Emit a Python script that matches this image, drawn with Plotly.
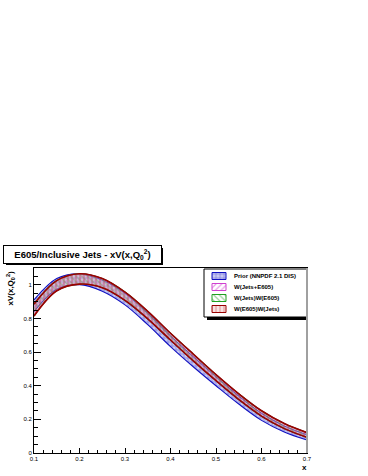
import plotly.graph_objects as go

# x grid and band edges
x = [0.10, 0.15, 0.20, 0.25, 0.30, 0.35, 0.40, 0.45, 0.50, 0.55, 0.60, 0.65, 0.70]

prior_hi = [0.910, 1.037, 1.065, 1.028, 0.949, 0.831, 0.697, 0.573, 0.454, 0.339, 0.236, 0.161, 0.109]
prior_lo = [0.840, 0.973, 1.001, 0.962, 0.881, 0.763, 0.633, 0.513, 0.400, 0.291, 0.194, 0.125, 0.077]

jets_e605_hi = [0.885, 1.025, 1.065, 1.037, 0.956, 0.842, 0.712, 0.588, 0.466, 0.352, 0.251, 0.175, 0.121]
jets_e605_lo = [0.815, 0.965, 1.005, 0.983, 0.908, 0.798, 0.672, 0.548, 0.430, 0.318, 0.219, 0.145, 0.093]

jets_w_e605_hi = [0.886, 1.026, 1.066, 1.037, 0.957, 0.842, 0.712, 0.588, 0.466, 0.352, 0.251, 0.175, 0.121]
jets_w_e605_lo = [0.814, 0.964, 1.004, 0.983, 0.907, 0.797, 0.671, 0.548, 0.430, 0.318, 0.219, 0.145, 0.093]

e605_w_jets_hi = [0.885, 1.025, 1.066, 1.037, 0.956, 0.842, 0.712, 0.588, 0.466, 0.352, 0.251, 0.175, 0.121]
e605_w_jets_lo = [0.815, 0.965, 1.004, 0.983, 0.908, 0.798, 0.672, 0.548, 0.430, 0.318, 0.219, 0.145, 0.093]

labels = ["Prior (NNPDF 2.1 DIS)", "W(Jets+E605)", "W(Jets)W(E605)", "W(E605)W(Jets)"]

W, H = 368, 476
L, R, T, B = 34, 307, 268, 453   # plot frame in pixels


def px(xp):
    return (xp - L) / (R - L)


def py(yp):
    return (B - yp) / (B - T)


styles = [
    dict(line="#1010c0", pat=dict(shape="+", fgcolor="#3030d0", bgcolor="#c8c8f0", size=4, solidity=0.3)),
    dict(line="#d040d0", pat=dict(shape="/", fgcolor="#d040d0", size=4, solidity=0.3)),
    dict(line="#20a020", pat=dict(shape="\\", fgcolor="#30a030", size=4, solidity=0.3)),
    dict(line="#990000", pat=dict(shape="|", fgcolor="#cc4040", bgcolor="rgba(230,170,170,0.35)", size=4, solidity=0.25)),
]
bands = [(prior_lo, prior_hi), (jets_e605_lo, jets_e605_hi),
         (jets_w_e605_lo, jets_w_e605_hi), (e605_w_jets_lo, e605_w_jets_hi)]

fig = go.Figure()
for (lo, hi), st, name in zip(bands, styles, labels):
    lw = 1.6 if st["line"] == "#990000" else 1.1
    fig.add_trace(go.Scatter(x=x, y=hi, mode="lines", line=dict(color=st["line"], width=lw, shape="spline"),
                             showlegend=False, hoverinfo="skip", name=name))
    fig.add_trace(go.Scatter(x=x, y=lo, mode="lines", line=dict(color=st["line"], width=lw, shape="spline"),
                             fill="tonexty", fillcolor="rgba(0,0,0,0)", fillpattern=st["pat"],
                             showlegend=False, hoverinfo="skip", name=name))

# legend drawn by hand on a pixel-space overlay axis (ROOT-style compact box)
leg_x0, leg_x1, leg_y0, leg_y1 = 204, 308, 269, 317
sw_x0, sw_x1 = 212, 226
leg_rows = [276, 287, 298, 309]


def rect(x0, x1, y0, y1):
    return [x0, x1, x1, x0, x0], [y0, y0, y1, y1, y0]


sx, sy = rect(leg_x0 + 3, leg_x1 + 3, leg_y0 + 3, leg_y1 + 3)
fig.add_trace(go.Scatter(x=sx, y=sy, xaxis="x2", yaxis="y2", mode="lines", fill="toself",
                         fillcolor="black", line=dict(color="black", width=0), showlegend=False, hoverinfo="skip"))
bx, by = rect(leg_x0, leg_x1, leg_y0, leg_y1)
fig.add_trace(go.Scatter(x=bx, y=by, xaxis="x2", yaxis="y2", mode="lines", fill="toself",
                         fillcolor="white", line=dict(color="black", width=1), showlegend=False, hoverinfo="skip"))
for yr, st, name in zip(leg_rows, styles, labels):
    rx, ry = rect(sw_x0, sw_x1, yr - 3.5, yr + 3.5)
    fig.add_trace(go.Scatter(x=rx, y=ry, xaxis="x2", yaxis="y2", mode="lines", fill="toself",
                             fillcolor="rgba(0,0,0,0)", fillpattern=st["pat"],
                             line=dict(color=st["line"], width=1), showlegend=False, hoverinfo="skip"))
    fig.add_annotation(xref="x2", yref="y2", x=232, y=yr, xanchor="left", yanchor="middle",
                       text="<b>" + name + "</b>", showarrow=False,
                       font=dict(family="Liberation Sans", size=6, color="black"))

axfont = dict(family="Liberation Sans", size=6, color="black")

fig.update_layout(
    xaxis=dict(
        range=[0.1, 0.7], dtick=0.1, tick0=0.1, ticks="inside", ticklen=5, tickcolor="black",
        minor=dict(dtick=0.02, ticks="inside", ticklen=3, tickcolor="black"),
        showline=True, linecolor="black", linewidth=1, mirror=True,
        showgrid=False, zeroline=False, tickfont=axfont, tickformat=".1f",
    ),
    yaxis=dict(
        range=[0, 1.1], ticks="inside", ticklen=7, tickcolor="black",
        minor=dict(dtick=0.05, ticks="inside", ticklen=4, tickcolor="black"),
        showline=True, linecolor="black", linewidth=1, mirror=True,
        showgrid=False, zeroline=False, tickfont=axfont,
        tickvals=[0, 0.2, 0.4, 0.6, 0.8, 1.0], ticktext=["0", "0.2", "0.4", "0.6", "0.8", "1"],
    ),
    xaxis2=dict(overlaying="x", range=[L, R], visible=False, anchor="y2"),
    yaxis2=dict(overlaying="y", range=[B, T], visible=False, anchor="x2"),
)

# title box with shadow
fig.add_shape(type="rect", xref="paper", yref="paper",
              x0=px(6), x1=px(163), y0=py(265), y1=py(248),
              fillcolor="black", line=dict(width=0), layer="below")
fig.add_annotation(
    xref="paper", yref="paper", x=px(3), y=py(245), xanchor="left", yanchor="top",
    text="<b>E605/Inclusive Jets - xV(x,Q<sub>0</sub><sup>2</sup>)</b>",
    showarrow=False, font=dict(family="Liberation Sans", size=9.5, color="black"),
    bgcolor="white", bordercolor="black", borderwidth=1, borderpad=2,
    width=153, height=13, align="center",
)

# right frame edge drawn grey as in ROOT
fig.add_shape(type="line", xref="paper", yref="paper", x0=1, x1=1, y0=0, y1=1,
              line=dict(color="#a0a0a0", width=2))

fig.add_annotation(xref="paper", yref="paper", x=px(309), y=py(461), xanchor="right", yanchor="top",
                   text="<b>x</b>", showarrow=False,
                   font=dict(family="Liberation Sans", size=8, color="black"))
fig.add_annotation(xref="paper", yref="paper", x=px(10), y=1.0, xanchor="center", yanchor="top",
                   text="<b>xV(x,Q<sub>0</sub><sup>2</sup>)</b>", textangle=-90, showarrow=False,
                   font=dict(family="Liberation Sans", size=8, color="black"))

fig.update_layout(
    width=W, height=H, autosize=False,
    margin=dict(l=L, r=W - R, t=T, b=H - B, pad=0),
    plot_bgcolor="white", paper_bgcolor="white",
    showlegend=False,
)

fig.write_html("out.html", config={"displayModeBar": False},
               post_script="document.body.style.margin='0';")
